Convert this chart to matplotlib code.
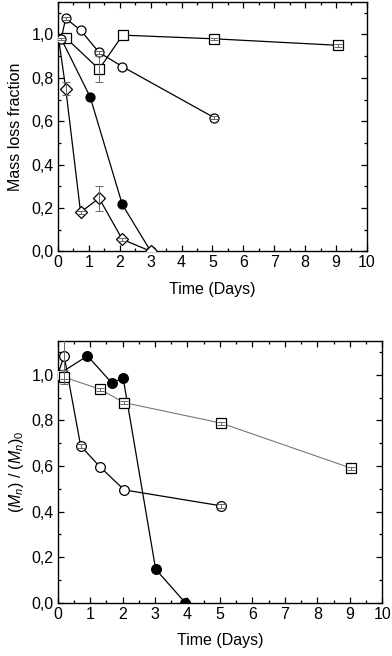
import numpy as np
import matplotlib
matplotlib.use("Agg")
import matplotlib.pyplot as plt
from matplotlib.ticker import MultipleLocator, FuncFormatter

plt.rcParams['font.family'] = ['Liberation Sans', 'DejaVu Sans']
plt.rcParams['mathtext.fontset'] = 'custom'
plt.rcParams['mathtext.rm'] = 'Liberation Sans'
plt.rcParams['mathtext.it'] = 'Liberation Sans:italic'

# ---- top panel: mass loss fraction ----
sq_x = [0.1, 0.25, 1.33, 2.09, 5.06, 9.07]
sq_y = [0.98, 0.985, 0.84, 0.997, 0.98, 0.95]
sq_err = [0.0, 0.0, 0.06, 0.0, 0.006, 0.006]

oc_x = [0.1, 0.25, 0.73, 1.33, 2.08, 5.06]
oc_y = [0.98, 1.074, 1.02, 0.917, 0.852, 0.616]
oc_err = [0.006, 0.006, 0.0, 0.008, 0.0, 0.008]

fc_x = [0.0, 1.04, 2.08, 3.0]
fc_y = [1.01, 0.712, 0.216, 0.0]

dm_x = [0.0, 0.25, 0.73, 1.33, 2.08, 3.0]
dm_y = [1.0, 0.75, 0.18, 0.245, 0.055, 0.0]
dm_err = [0.0, 0.03, 0.006, 0.058, 0.006, 0.0]

# ---- bottom panel: Mn / Mn0 ----
b_oc_x = [0.0, 0.2, 0.71, 1.30, 2.05, 5.04]
b_oc_y = [1.0, 1.083, 0.688, 0.597, 0.495, 0.425]
b_oc_err = [0.0, 0.1, 0.008, 0.0, 0.0, 0.008]

b_fc_x = [0.0, 0.92, 1.66, 2.02, 3.02, 3.93]
b_fc_y = [1.0, 1.083, 0.966, 0.985, 0.147, 0.0]

b_sq_x = [0.05, 0.2, 1.30, 2.05, 5.04, 9.05]
b_sq_y = [1.0, 0.99, 0.937, 0.878, 0.788, 0.59]
b_sq_err = [0.0, 0.03, 0.006, 0.006, 0.006, 0.006]

fig = plt.figure(figsize=(3.92, 6.56), dpi=100)
ax1 = fig.add_axes([0.148, 0.617, 0.788, 0.380])
ax2 = fig.add_axes([0.147, 0.0813, 0.828, 0.3994])

fmt = FuncFormatter(lambda v, p: ('%.1f' % v).replace('.', ','))
fs = 11.5


def series(ax, x, y, marker, face, start=0, err=None, lc='black', lw=0.9, ms=6.5):
    x = np.array(x)
    y = np.array(y)
    ax.plot(x, y, color=lc, lw=lw, zorder=2)
    ax.plot(x[start:], y[start:], ls='none', marker=marker, ms=ms,
            mfc=face, mec='black', mew=0.9, zorder=3)
    if err is not None:
        err = np.array(err)
        m = err > 0
        ax.errorbar(x[m], y[m], yerr=err[m], ls='none', ecolor='#666666',
                    elinewidth=0.7, capsize=3, capthick=0.7, zorder=4)


series(ax1, sq_x, sq_y, 's', 'white', start=1, err=sq_err)
series(ax1, oc_x, oc_y, 'o', 'white', err=oc_err)
series(ax1, fc_x, fc_y, 'o', 'black', start=1)
series(ax1, dm_x, dm_y, 'D', 'white', start=1, err=dm_err, ms=6.5)

series(ax2, b_sq_x, b_sq_y, 's', 'white', err=b_sq_err, lc='#777777', lw=0.8)
series(ax2, b_oc_x, b_oc_y, 'o', 'white', start=1, err=b_oc_err, ms=7)
series(ax2, b_fc_x, b_fc_y, 'o', 'black', start=1, ms=7)

for ax in (ax1, ax2):
    ax.set_xlim(0, 10)
    ax.set_ylim(0, 1.15)
    ax.xaxis.set_major_locator(MultipleLocator(1))
    ax.xaxis.set_minor_locator(MultipleLocator(0.5))
    ax.yaxis.set_major_locator(MultipleLocator(0.2))
    ax.yaxis.set_minor_locator(MultipleLocator(0.1))
    ax.yaxis.set_major_formatter(fmt)
    ax.tick_params(which='both', direction='in', top=True, right=True,
                   labelsize=fs, width=0.9)
    ax.tick_params(which='major', length=4.5, pad=3)
    ax.tick_params(which='minor', length=2.5)
    for s in ax.spines.values():
        s.set_linewidth(1.0)
    ax.set_xlabel('Time (Days)', fontsize=fs, labelpad=8)

ax1.set_ylabel('Mass loss fraction', fontsize=fs, labelpad=6)
ax2.set_ylabel(r'$(M_n)$ / $(M_n)_0$', fontsize=fs, labelpad=4)

fig.savefig('out.png', dpi=100)
